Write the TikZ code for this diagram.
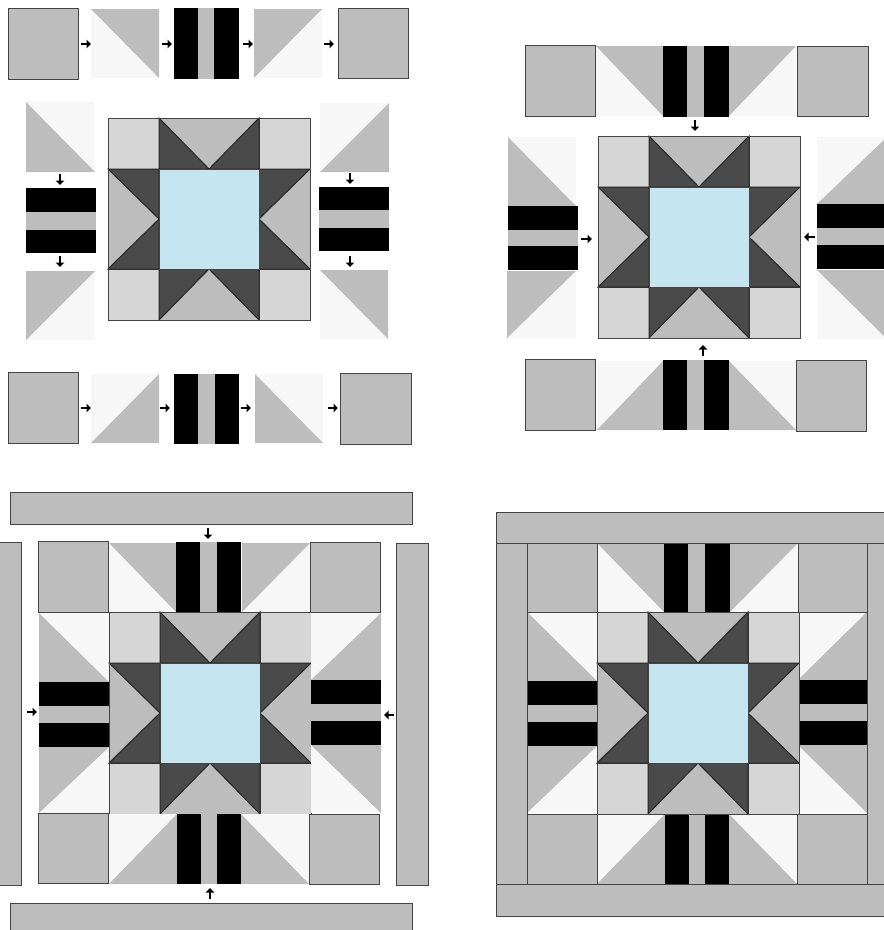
\documentclass[tikz,border=0pt]{standalone}
\usetikzlibrary{arrows.meta}
\definecolor{patchgray}{HTML}{BDBDBD}
\definecolor{patchwhite}{HTML}{F7F7F7}
\definecolor{patchdark}{HTML}{4A4A4A}
\definecolor{patchlight}{HTML}{D6D6D6}
\definecolor{patchblue}{HTML}{C5E5F0}
\definecolor{seam}{HTML}{444444}
\tikzset{
  patch/.style={fill=patchgray,draw=seam,line width=0.9pt},
  stepdir/.style={-{Triangle[length=4.5pt,width=8.5pt]},line width=2.3pt,black},
}
% half-square triangles, named after the corner that is gray
\newcommand{\hstTR}[4]{\fill[patchwhite](#1,#2) rectangle (#3,#4); \fill[patchgray](#1,#2)--(#3,#2)--(#3,#4)--cycle;}
\newcommand{\hstTL}[4]{\fill[patchwhite](#1,#2) rectangle (#3,#4); \fill[patchgray](#1,#2)--(#3,#2)--(#1,#4)--cycle;}
\newcommand{\hstBL}[4]{\fill[patchwhite](#1,#2) rectangle (#3,#4); \fill[patchgray](#1,#2)--(#1,#4)--(#3,#4)--cycle;}
\newcommand{\hstBR}[4]{\fill[patchwhite](#1,#2) rectangle (#3,#4); \fill[patchgray](#3,#2)--(#3,#4)--(#1,#4)--cycle;}
% black strips with a gray middle between #5 and #6
\newcommand{\vstrip}[6]{\fill[black](#1,#2) rectangle (#3,#4); \fill[patchgray](#5,#2) rectangle (#6,#4);}
\newcommand{\hstrip}[6]{\fill[black](#1,#2) rectangle (#3,#4); \fill[patchgray](#1,#5) rectangle (#3,#6);}
% centre block, 202 wide
\newcommand{\starblock}[2]{
  \begin{scope}[shift={(#1,#2)},draw=black!85,line width=1pt]
    \fill[patchgray](0,0) rectangle (202,202);
    \filldraw[fill=patchlight,draw=seam](0,0) rectangle (51,51);
    \filldraw[fill=patchlight,draw=seam](151,0) rectangle (202,51);
    \filldraw[fill=patchlight,draw=seam](0,151) rectangle (51,202);
    \filldraw[fill=patchlight,draw=seam](151,151) rectangle (202,202);
    \filldraw[fill=patchdark](51,0)--(101,51)--(51,51)--cycle;
    \filldraw[fill=patchdark](151,0)--(101,51)--(151,51)--cycle;
    \filldraw[fill=patchdark](51,202)--(101,151)--(51,151)--cycle;
    \filldraw[fill=patchdark](151,202)--(101,151)--(151,151)--cycle;
    \filldraw[fill=patchdark](0,51)--(51,101)--(51,51)--cycle;
    \filldraw[fill=patchdark](0,151)--(51,101)--(51,151)--cycle;
    \filldraw[fill=patchdark](202,51)--(151,101)--(151,51)--cycle;
    \filldraw[fill=patchdark](202,151)--(151,101)--(151,151)--cycle;
    \filldraw[fill=patchblue,draw=seam](51,51) rectangle (151,151);
    \draw[seam](0,0) rectangle (202,202);
  \end{scope}
}

\begin{document}
\begin{tikzpicture}[x=1pt,y=-1pt]
  \useasboundingbox (0,0) rectangle (884,930);
  \clip (0,0) rectangle (884,930);

  % top left panel: rows and columns laid apart
  \draw[patch](8,8) rectangle (78,79);
  \hstTR{91}{9}{159}{78}
  \vstrip{174}{8}{239}{79}{198}{214}
  \hstTL{254}{9}{322}{78}
  \draw[patch](338,8) rectangle (408,78);
  \foreach \ax in {81,162,243,324}
    \draw[stepdir](\ax,44)--(\ax+10,44);

  \hstBL{26}{102}{95}{172}
  \hstrip{26}{188}{96}{253}{212}{230}
  \hstTL{26}{271}{95}{340}
  \draw[stepdir](60,174)--(60,185);
  \draw[stepdir](60,256)--(60,267);

  \starblock{108}{118}

  \hstBR{320}{103}{389}{172}
  \hstrip{319}{187}{389}{251}{210}{228}
  \hstTR{320}{270}{388}{339}
  \draw[stepdir](350,173)--(350,184);
  \draw[stepdir](350,256)--(350,267);

  \draw[patch](8,372) rectangle (78,443);
  \hstBR{91}{374}{159}{443}
  \vstrip{174}{374}{239}{444}{198}{215}
  \hstBL{255}{374}{323}{443}
  \draw[patch](340,373) rectangle (411,444);
  \foreach \ax in {81,160,241,328}
    \draw[stepdir](\ax,408)--(\ax+10,408);

  % top right panel: rows joined
  \draw[patch](525,45) rectangle (595,116);
  \hstTR{596}{46}{663}{116}
  \hstTL{729}{46}{796}{116}
  \vstrip{663}{46}{729}{117}{687}{704}
  \draw[patch](797,46) rectangle (868,116);
  \draw[stepdir](695,120)--(695,131);

  \hstBL{508}{137}{576}{206}
  \hstTL{507}{271}{576}{338}
  \hstrip{508}{206}{578}{270}{230}{246}
  \draw[stepdir](581,239)--(592,239);

  \starblock{598}{136}

  \hstBR{817}{137}{887}{204}
  \hstTR{817}{270}{887}{339}
  \hstrip{817}{204}{887}{269}{228}{245}
  \draw[stepdir](815,237)--(804,237);

  \draw[patch](525,359) rectangle (595,430);
  \hstBR{597}{361}{663}{430}
  \hstBL{729}{361}{796}{430}
  \vstrip{663}{360}{729}{430}{687}{704}
  \draw[patch](796,360) rectangle (866,431);
  \draw[stepdir](703,356)--(703,345);

  % bottom left panel: borders laid apart
  \draw[patch](10,492) rectangle (412,524);
  \draw[stepdir](208,528)--(208,539);
  \draw[patch](-12,542) rectangle (21,885);
  \draw[patch](396,543) rectangle (428,885);
  \draw[patch](10,903) rectangle (412,936);

  \hstTR{109}{543}{176}{612}
  \hstTL{242}{543}{310}{612}
  \vstrip{176}{542}{241}{613}{200}{217}
  \draw[patch](38,541) rectangle (108,612);
  \draw[patch](310,542) rectangle (380,612);

  \hstBL{39}{613}{109}{682}
  \hstTL{39}{747}{109}{813}
  \hstrip{39}{682}{109}{747}{706}{723}
  \draw[stepdir](27,712)--(37,712);

  \starblock{109}{612}

  \hstBR{311}{613}{381}{680}
  \hstTR{311}{745}{381}{813}
  \hstrip{311}{680}{381}{745}{704}{721}
  \draw[stepdir](394,715)--(384,715);

  \hstBR{109}{814}{177}{884}
  \hstBL{241}{814}{309}{884}
  \vstrip{177}{814}{241}{884}{201}{217}
  \draw[patch](38,813) rectangle (108,883);
  \draw[patch](309,814) rectangle (379,884);
  \draw[stepdir](210,899)--(210,888);

  % bottom right panel: finished block
  \hstTR{597}{543}{664}{612}
  \hstTL{730}{543}{798}{612}
  \hstBL{527}{612}{597}{681}
  \hstTL{527}{746}{597}{813}
  \hstBR{798}{612}{867}{680}
  \hstTR{798}{745}{867}{813}
  \hstBR{597}{814}{665}{884}
  \hstBL{729}{814}{797}{884}
  \draw[patch](527,543) rectangle (597,612);
  \draw[patch](798,543) rectangle (867,612);
  \draw[patch](527,814) rectangle (597,884);
  \draw[patch](797,814) rectangle (867,884);
  \vstrip{664}{543}{730}{612}{688}{705}
  \vstrip{665}{814}{729}{884}{689}{705}
  \hstrip{527}{681}{597}{746}{705}{722}
  \hstrip{798}{680}{867}{745}{704}{721}
  \starblock{597}{612}
  \draw[patch](496,512) rectangle (890,543);
  \draw[patch](496,884) rectangle (890,916);
  \draw[patch](496,543) rectangle (527,884);
  \draw[patch](867,543) rectangle (890,884);
\end{tikzpicture}
\end{document}
